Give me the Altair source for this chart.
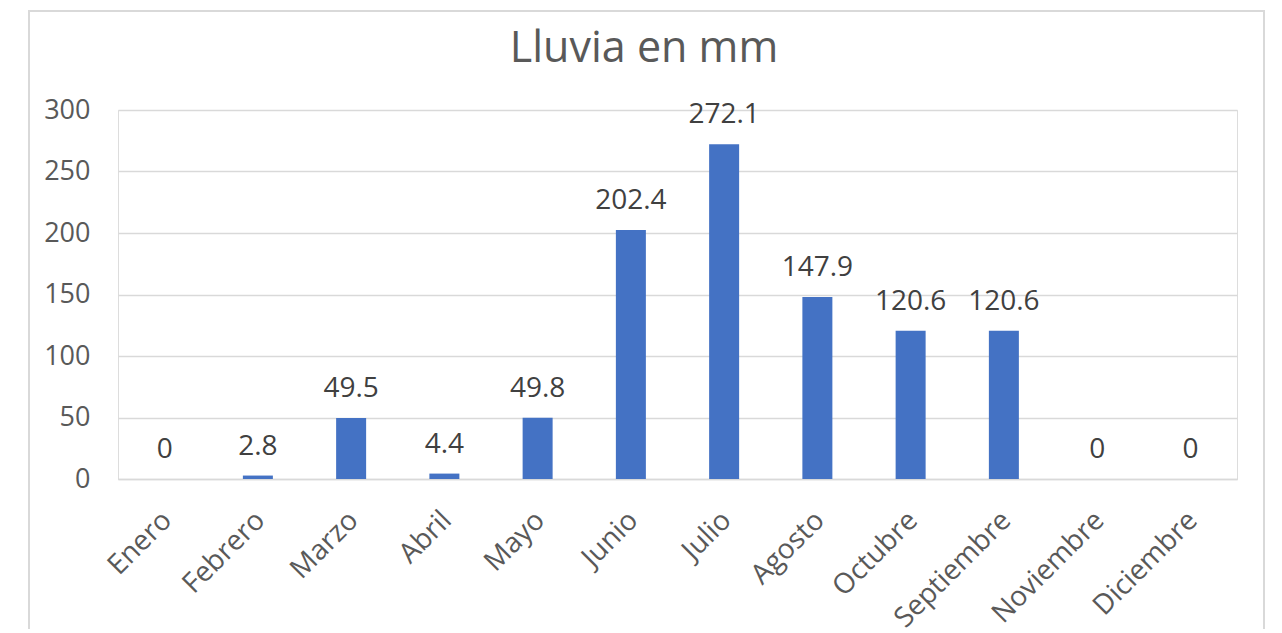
import altair as alt
import pandas as pd

months = ["Enero", "Febrero", "Marzo", "Abril", "Mayo", "Junio", "Julio",
          "Agosto", "Octubre", "Septiembre", "Noviembre", "Diciembre"]
rain = [0, 2.8, 49.5, 4.4, 49.8, 202.4, 272.1, 147.9, 120.6, 120.6, 0, 0]
y_ticks = [0, 50, 100, 150, 200, 250, 300]
chart_title = "Lluvia en mm"

df = pd.DataFrame({
    "mes": months,
    "lluvia": rain,
    "etiqueta": [f"{v:g}" for v in rain],
})

FONT = "Open Sans"
GRID = "#d9d9d9"

x = alt.X("mes:N", sort=months, title=None,
          scale=alt.Scale(paddingInner=0, paddingOuter=0),
          axis=alt.Axis(labelAngle=-45, labelFontSize=28, labelColor="#595959",
                        labelFont=FONT, ticks=False, domain=True,
                        domainColor=GRID, domainWidth=1.5, labelPadding=27,
                        labelOffset=-7))
y = alt.Y("lluvia:Q", title=None,
          scale=alt.Scale(domain=[0, 300], nice=False),
          axis=alt.Axis(values=y_ticks, labelFontSize=27, labelColor="#595959",
                        labelFont=FONT, ticks=False, domain=False,
                        gridColor=GRID, gridWidth=1.5, labelPadding=28))

bars = alt.Chart(df).mark_bar(size=30, color="#4472C4").encode(x=x, y=y)

labels = alt.Chart(df).mark_text(
    baseline="alphabetic", dy=-21, fontSize=28, font=FONT, color="#404040"
).encode(x=alt.X("mes:N", sort=months), y="lluvia:Q", text="etiqueta:N")

frame = alt.Chart(alt.Data(values=[{"k": 1}])).mark_rect(
    fill=None, stroke=GRID, strokeWidth=2
).encode(x=alt.value(-89), x2=alt.value(1146), y=alt.value(-99), y2=alt.value(560))

title = alt.Chart(alt.Data(values=[{"t": chart_title}])).mark_text(
    fontSize=43, font=FONT, color="#595959", align="center", baseline="alphabetic"
).encode(x=alt.value(526), y=alt.value(-48), text="t:N")

chart = alt.layer(frame, bars, labels, title).properties(
    width=1119, height=369,
    autosize=alt.AutoSizeParams(type="none"),
    padding={"left": 110, "top": 102, "right": 36, "bottom": 150},
).configure_view(stroke=None).configure(background="white")

chart.save("out.html", embed_options={"renderer": "svg", "actions": False})
